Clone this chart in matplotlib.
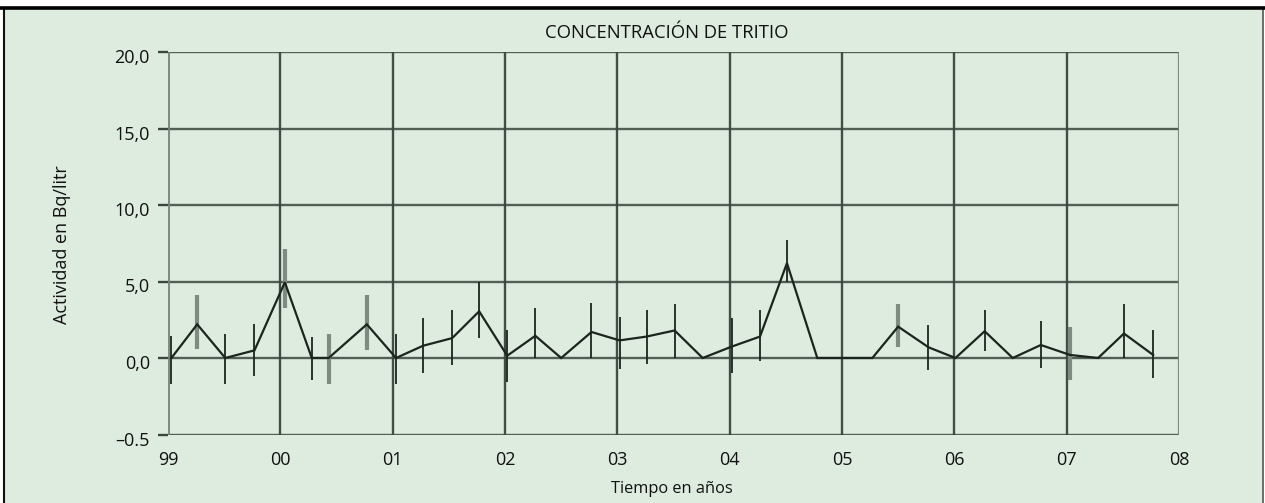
import numpy as np
import matplotlib
matplotlib.use("Agg")
import matplotlib.pyplot as plt
from matplotlib.patches import Rectangle
import matplotlib.transforms as mtransforms

# ---- data ----
years = [1999.03, 1999.26, 1999.51, 1999.77, 2000.04, 2000.28, 2000.43, 2000.77,
         2001.03, 2001.27, 2001.53, 2001.77, 2002.02, 2002.27, 2002.50, 2002.77,
         2003.02, 2003.26, 2003.51, 2003.76, 2004.02, 2004.27, 2004.51, 2004.78,
         2005.02, 2005.27, 2005.50, 2005.77, 2006.01, 2006.27, 2006.52, 2006.77,
         2007.03, 2007.28, 2007.51, 2007.77]
activity = [0.0, 2.2, 0.0, 0.5, 4.95, 0.0, 0.0, 2.2,
            0.0, 0.8, 1.3, 3.05, 0.15, 1.45, 0.0, 1.7,
            1.15, 1.4, 1.8, 0.0, 0.75, 1.4, 6.2, 0.0,
            0.0, 0.0, 2.05, 0.7, 0.0, 1.75, 0.0, 0.85,
            0.2, 0.0, 1.6, 0.2]
nan = np.nan
# lower / upper end of the uncertainty bar (Bq/litr); series A (dark) and B (grey)
a_low = [-1.7, nan, -1.7, -1.2, nan, -1.45, nan, nan,
         -1.7, -0.95, -0.45, 1.3, -1.6, 0.0, nan, 0.0,
         -0.7, -0.4, 0.0, nan, -0.95, -0.2, 5.0, nan,
         nan, nan, nan, -0.8, nan, 0.45, nan, -0.65,
         nan, nan, 0.0, -1.3]
a_high = [1.45, nan, 1.6, 2.2, nan, 1.35, nan, nan,
          1.6, 2.6, 3.15, 5.0, 1.8, 3.3, nan, 3.6,
          2.65, 3.15, 3.55, nan, 2.6, 3.15, 7.7, nan,
          nan, nan, nan, 2.15, nan, 3.15, nan, 2.45,
          nan, nan, 3.55, 1.85]
b_low = [nan, 0.6, nan, nan, 3.3, nan, -1.7, 0.5,
         nan, nan, nan, nan, nan, nan, nan, nan,
         nan, nan, nan, nan, nan, nan, nan, nan,
         nan, nan, 0.75, nan, nan, nan, nan, nan,
         -1.45, nan, nan, nan]
b_high = [nan, 4.1, nan, nan, 7.1, nan, 1.6, 4.1,
          nan, nan, nan, nan, nan, nan, nan, nan,
          nan, nan, nan, nan, nan, nan, nan, nan,
          nan, nan, 3.55, nan, nan, nan, nan, nan,
          2.05, nan, nan, nan]

x_ticks = list(range(1999, 2009))
x_labels = ["99", "00", "01", "02", "03", "04", "05", "06", "07", "08"]
y_ticks = [-5, 0, 5, 10, 15, 20]
y_labels = ["\u20130.5", "0,0", "5,0", "10,0", "15,0", "20,0"]

title = "CONCENTRACIÓN DE TRITIO"
ylab = "Actividad en Bq/litr"
xlab = "Tiempo en años"

# ---- style ----
plt.rcParams['font.family'] = ['Open Sans', 'DejaVu Sans']
BG = "#deebdf"
GRID = "#3a463d"
EDGE = "#748277"
LINE = "#1c241e"
GREY = "#7e8b81"

W, H = 1265, 503
fig = plt.figure(figsize=(W / 100, H / 100), dpi=100)
fig.patch.set_facecolor("white")

# panel background with black frame (left, top, right)
bgrect = Rectangle((4 / W, 0), (1263 - 4) / W, 1 - 8 / H,
                   transform=fig.transFigure, facecolor=BG,
                   edgecolor="none", zorder=-10)
fig.add_artist(bgrect)
fig.add_artist(plt.Line2D([4 / W, 4 / W], [0, 1 - 8 / H], transform=fig.transFigure,
                          color="#111111", lw=1.5, zorder=-5))
fig.add_artist(plt.Line2D([1263 / W, 1263 / W], [0, 1 - 8 / H], transform=fig.transFigure,
                          color="#555555", lw=1.2, zorder=-5))
fig.add_artist(plt.Line2D([0, 1], [1 - 7.5 / H, 1 - 7.5 / H], transform=fig.transFigure,
                          color="#000000", lw=2.6, zorder=-5))

left, right = 168 / W, 1179 / W
bottom, top = 1 - 434.5 / H, 1 - 52 / H
ax = fig.add_axes([left, bottom, right - left, top - bottom])
ax.set_zorder(1)
ax.patch.set_alpha(0)

ax.set_xlim(1999, 2008)
ax.set_ylim(-5, 20)

# grid
for yv in y_ticks:
    ax.axhline(yv, color=GRID, lw=1.7, alpha=0.85, zorder=1)
for xv in x_ticks[1:-1]:
    ax.axvline(xv, color=GRID, lw=1.7, alpha=0.95, zorder=1)

for s in ax.spines.values():
    s.set_visible(False)
ax.axvline(1999, color=EDGE, lw=2.2, alpha=0.9, zorder=1)
ax.axvline(2008, color=EDGE, lw=1.6, alpha=0.9, zorder=1)

# uncertainty bars
x = np.array(years)
ax.vlines(x, b_low, b_high, color=GREY, lw=3.0, zorder=2)
ax.vlines(x, a_low, a_high, color=LINE, lw=1.3, zorder=3)

# data line
ax.plot(x, activity, color=LINE, lw=1.6, zorder=4, solid_joinstyle="miter")

ax.set_xticks(x_ticks)
ax.set_xticklabels(x_labels)
ax.set_yticks(y_ticks)
ax.set_yticklabels(y_labels)
ax.tick_params(axis='x', length=0, pad=12, labelsize=13, labelcolor="#111111")
ax.tick_params(axis='y', length=7, width=1.7, color=GRID, pad=6, labelsize=13,
               labelcolor="#111111")
offset = mtransforms.ScaledTranslation(0, -4 / 100, fig.dpi_scale_trans)
for lbl in ax.get_yticklabels():
    lbl.set_transform(lbl.get_transform() + offset)

fig.text(667 / W, 1 - 33 / H, title, ha="center", va="center", fontsize=13.3,
         color="#111111")
fig.text(62 / W, 1 - 245 / H, ylab, ha="center", va="center", rotation=90,
         fontsize=13, color="#111111")
fig.text(672 / W, 1 - 489 / H, xlab, ha="center", va="center", fontsize=11.8,
         color="#111111")

fig.savefig("out.png", dpi=100, facecolor=fig.get_facecolor())
